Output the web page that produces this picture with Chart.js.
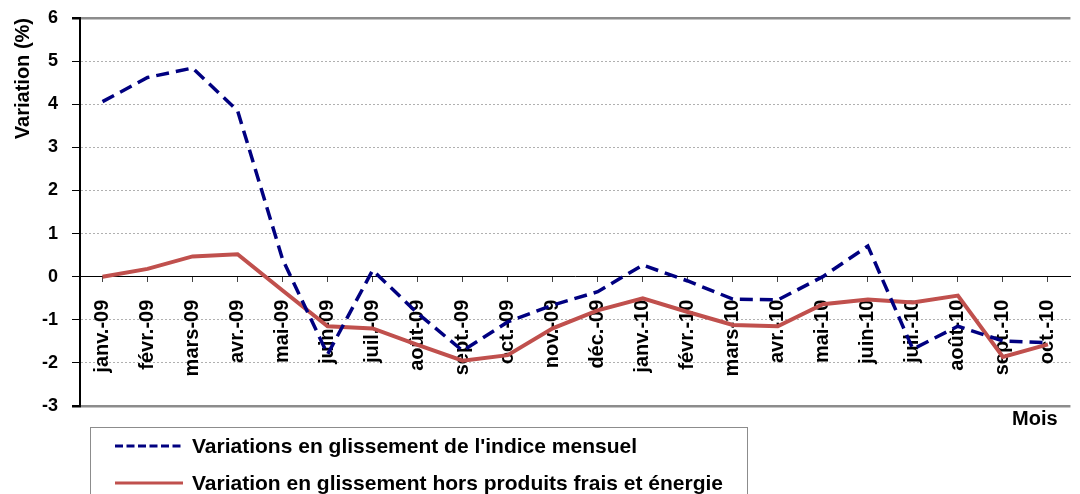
<!DOCTYPE html>
<html>
<head>
<meta charset="utf-8">
<script src="https://cdn.jsdelivr.net/npm/chart.js@4.4.1/dist/chart.umd.min.js"></script>
<style>
  html, body { margin: 0; padding: 0; background: #fff; overflow: hidden; }
  #wrap { width: 1090px; height: 494px; }
</style>
</head>
<body>
<div id="wrap"><canvas id="myChart"></canvas></div>
<script>
const months = [
  "janv.-09", "févr.-09", "mars-09", "avr.-09", "mai-09", "juin-09",
  "juil.-09", "août-09", "sept.-09", "oct.-09", "nov.-09", "déc.-09",
  "janv.-10", "févr.-10", "mars-10", "avr.-10", "mai-10", "juin-10",
  "juil.-10", "août-10", "sept.-10", "oct.-10",
];
const indiceMensuel = [
  4.06, 4.62, 4.84, 3.85, 0.4, -1.8, 0.15, -0.85, -1.72, -1.05, -0.66, -0.35,
  0.27, -0.1, -0.52, -0.54, 0.0, 0.71, -1.68, -1.15, -1.49, -1.53,
];
const horsProduits = [
  0.0, 0.18, 0.47, 0.52, -0.32, -1.15, -1.2, -1.58, -1.95, -1.82, -1.2, -0.78,
  -0.5, -0.82, -1.12, -1.15, -0.64, -0.53, -0.6, -0.44, -1.86, -1.57,
];
const yMin = -3;
const yMax = 6;

const seriesNames = [
  "Variations en glissement de l'indice mensuel",
  "Variation en glissement hors produits frais et énergie",
];

const font = "'Liberation Sans', Arial, sans-serif";

// legend box + "Mois" drawn by hand, Excel style
const legendBox = {
  id: "legendBox",
  afterDraw(chart) {
    const ctx = chart.ctx;
    ctx.save();
    ctx.strokeStyle = "#8c8c8c";
    ctx.lineWidth = 1;
    ctx.strokeRect(90.5, 427.5, 657, 80);
    chart.data.datasets.forEach((ds, i) => {
      const y = 446 + i * 37;
      ctx.beginPath();
      ctx.setLineDash(i === 0 ? [8, 3.5] : []);
      ctx.strokeStyle = ds.borderColor;
      ctx.lineWidth = 3;
      ctx.moveTo(115, y);
      ctx.lineTo(183, y);
      ctx.stroke();
      ctx.setLineDash([]);
      ctx.fillStyle = "#000";
      ctx.font = "bold 21px " + font;
      ctx.textBaseline = "middle";
      ctx.fillText(ds.label, 192, y + 1);
    });
    ctx.font = "bold 20px " + font;
    ctx.textBaseline = "middle";
    ctx.fillText("Mois", 1012, 419);
    ctx.restore();
  },
};

const ctx = document.getElementById("myChart");

new Chart(ctx, {
  type: "line",
  data: {
    labels: months,
    datasets: [
      {
        label: seriesNames[0],
        data: indiceMensuel,
        borderColor: "#000080",
        borderWidth: 3.5,
        borderDash: [13, 7],
        pointRadius: 0,
        tension: 0,
        fill: false,
      },
      {
        label: seriesNames[1],
        data: horsProduits,
        borderColor: "#C0504D",
        borderWidth: 4,
        pointRadius: 0,
        tension: 0,
        fill: false,
      },
    ],
  },
  options: {
    responsive: true,
    maintainAspectRatio: false,
    animation: false,
    layout: { padding: { top: 18, right: 3, bottom: 88, left: 0 } },
    plugins: {
      legend: { display: false },
      tooltip: { enabled: false },
    },
    scales: {
      x: {
        position: { y: 0 },
        offset: true,
        grid: {
          drawOnChartArea: false,
          drawTicks: true,
          tickLength: 5,
          tickColor: "#444",
        },
        border: { color: "#000", width: 1 },
        ticks: {
          color: "#000",
          font: { family: font, size: 20, weight: "bold" },
          maxRotation: 90,
          minRotation: 90,
          autoSkip: false,
          padding: 18,
        },
      },
      y: {
        min: yMin,
        max: yMax,
        afterFit: (scale) => {
          scale.width = 80;
          scale.paddingTop = 10;
          scale.paddingBottom = 10;
        },
        ticks: {
          stepSize: 1,
          color: "#000",
          font: { family: font, size: 18, weight: "bold" },
          padding: 14,
        },
        grid: {
          color: (c) => {
            const v = c.tick ? c.tick.value : null;
            if (v === 0) return "rgba(0,0,0,0)";
            if (v === yMin || v === yMax) return "#8c8c8c";
            return "#b0b0b0";
          },
          lineWidth: (c) => {
            const v = c.tick ? c.tick.value : null;
            return v === yMin || v === yMax ? 2.5 : 1;
          },
          tickColor: "#000",
          tickLength: 8,
        },
        border: {
          color: "#000",
          width: 2,
          dash: (c) => {
            const v = c.tick ? c.tick.value : null;
            return v === yMin || v === yMax ? [] : [2, 2];
          },
        },
        title: {
          display: true,
          text: "Variation (%)",
          align: "end",
          color: "#000",
          font: { family: font, size: 20, weight: "bold" },
          padding: { top: 11, bottom: 0 },
        },
      },
    },
  },
  plugins: [legendBox],
});
</script>
</body>
</html>
